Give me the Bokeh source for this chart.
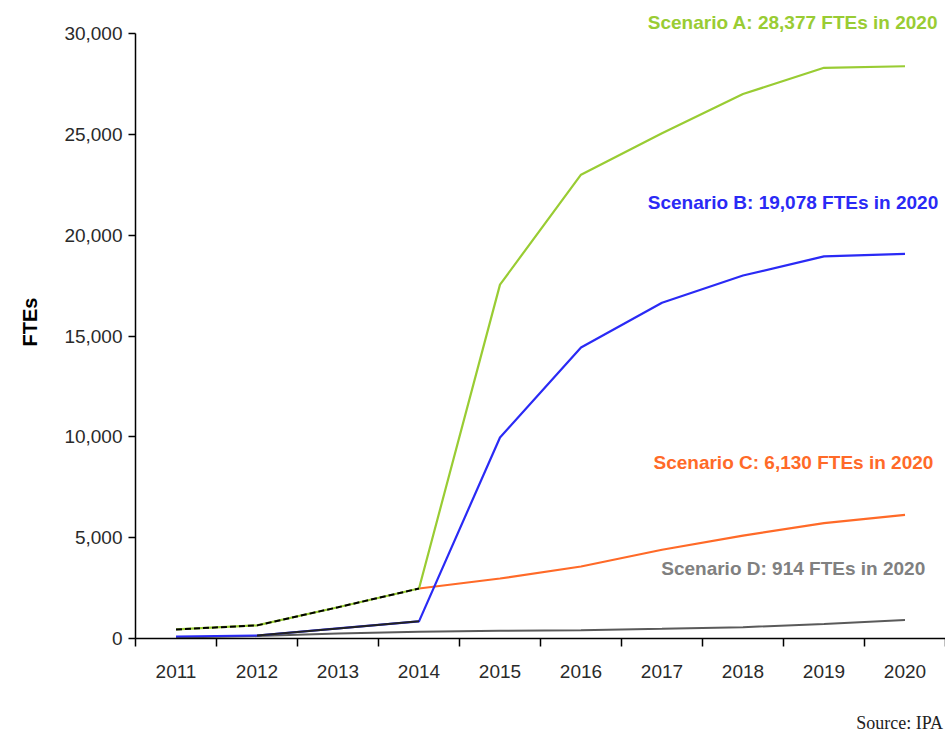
from bokeh.plotting import figure
from bokeh.models import FixedTicker, NumeralTickFormatter, Label, Range1d, Div
from bokeh.layouts import column
from bokeh.embed import file_html
from bokeh.resources import INLINE

years = [2011, 2012, 2013, 2014, 2015, 2016, 2017, 2018, 2019, 2020]
scenario_a = [450, 650, 1550, 2480, 17550, 23000, 25050, 27000, 28300, 28377]
scenario_b = [100, 150, 500, 850, 9970, 14430, 16650, 18000, 18950, 19078]
scenario_c = [450, 650, 1550, 2480, 2975, 3570, 4400, 5100, 5720, 6130]
scenario_d = [50, 120, 250, 330, 380, 410, 480, 560, 720, 914]
y_ticks = [0, 5000, 10000, 15000, 20000, 25000, 30000]
labels = {
    "A": "Scenario A: 28,377 FTEs in 2020",
    "B": "Scenario B: 19,078 FTEs in 2020",
    "C": "Scenario C: 6,130 FTEs in 2020",
    "D": "Scenario D: 914 FTEs in 2020",
}
label_pos = {"A": (2020.41, 30545), "B": (2020.41, 21620),
             "C": (2020.35, 8727), "D": (2020.25, 3471)}
source_text = "Source: IPA"

GREEN = "#99cc33"
BLUE = "#2a2af5"
ORANGE = "#ff6a28"
GRAY = "#808080"
FONT = "'Liberation Sans', Arial, sans-serif"

p = figure(width=945, height=706, output_backend="svg", toolbar_location=None,
           x_range=Range1d(2010.5, 2020.5), y_range=Range1d(0, 31390),
           min_border_left=135, min_border_right=0, min_border_top=5,
           min_border_bottom=68)
p.outline_line_color = None
p.xgrid.visible = False
p.ygrid.visible = False
p.background_fill_color = "white"
p.border_fill_color = "white"

# lines
p.line(years, scenario_d, line_color="#5a5a5a", line_width=2)
p.line(years[3:], scenario_c[3:], line_color=ORANGE, line_width=2.2)
p.line(years, scenario_b, line_color=BLUE, line_width=2.2)
p.line(years, scenario_a, line_color=GREEN, line_width=2.2)
p.line(years[:4], scenario_a[:4], line_color="black", line_width=2, line_dash="6 3")
p.line(years[1:4], scenario_b[1:4], line_color="#222222", line_width=2)

# x axis
xa = p.xaxis[0]
xa.ticker = FixedTicker(ticks=years, minor_ticks=[y - 0.5 for y in years] + [2020.5])
xa.major_tick_out = 0
xa.major_tick_in = 0
xa.minor_tick_out = 8
xa.minor_tick_in = 0
xa.minor_tick_line_color = "black"
xa.minor_tick_line_width = 1.5
xa.axis_line_color = "black"
xa.axis_line_width = 1.5
xa.major_label_standoff = 18
xa.major_label_text_font = FONT
xa.major_label_text_font_size = "19px"
xa.major_label_text_color = "#2a2a2a"

# y axis
ya = p.yaxis[0]
ya.bounds = (0, 30000)
ya.ticker = FixedTicker(ticks=y_ticks)
ya.formatter = NumeralTickFormatter(format="0,0")
ya.major_tick_out = 7
ya.major_tick_in = 0
ya.minor_tick_out = 0
ya.minor_tick_in = 0
ya.major_tick_line_width = 1.5
ya.axis_line_width = 1.5
ya.axis_line_color = "black"
ya.major_label_standoff = 6
ya.major_label_text_font = FONT
ya.major_label_text_font_size = "19px"
ya.major_label_text_color = "#2a2a2a"
ya.axis_label = "FTEs"
ya.axis_label_text_font = FONT
ya.axis_label_text_font_style = "bold"
ya.axis_label_text_font_size = "20px"
ya.axis_label_standoff = 20
ya.axis_label_text_color = "black"

# scenario labels
colors = {"A": GREEN, "B": BLUE, "C": ORANGE, "D": GRAY}
for k in ["A", "B", "C", "D"]:
    x, y = label_pos[k]
    p.add_layout(Label(x=x, y=y, text=labels[k], text_align="right",
                       text_baseline="middle", text_color=colors[k],
                       text_font=FONT, text_font_style="bold",
                       text_font_size="19px"))

src = Div(text=source_text, width=938, height=24,
          styles={"text-align": "right", "font-family": "'Liberation Serif', 'Times New Roman', serif",
                  "font-size": "18px", "color": "#222222", "line-height": "24px"})

layout = column(p, src, spacing=0)
open("out.html", "w").write(file_html(layout, INLINE))
